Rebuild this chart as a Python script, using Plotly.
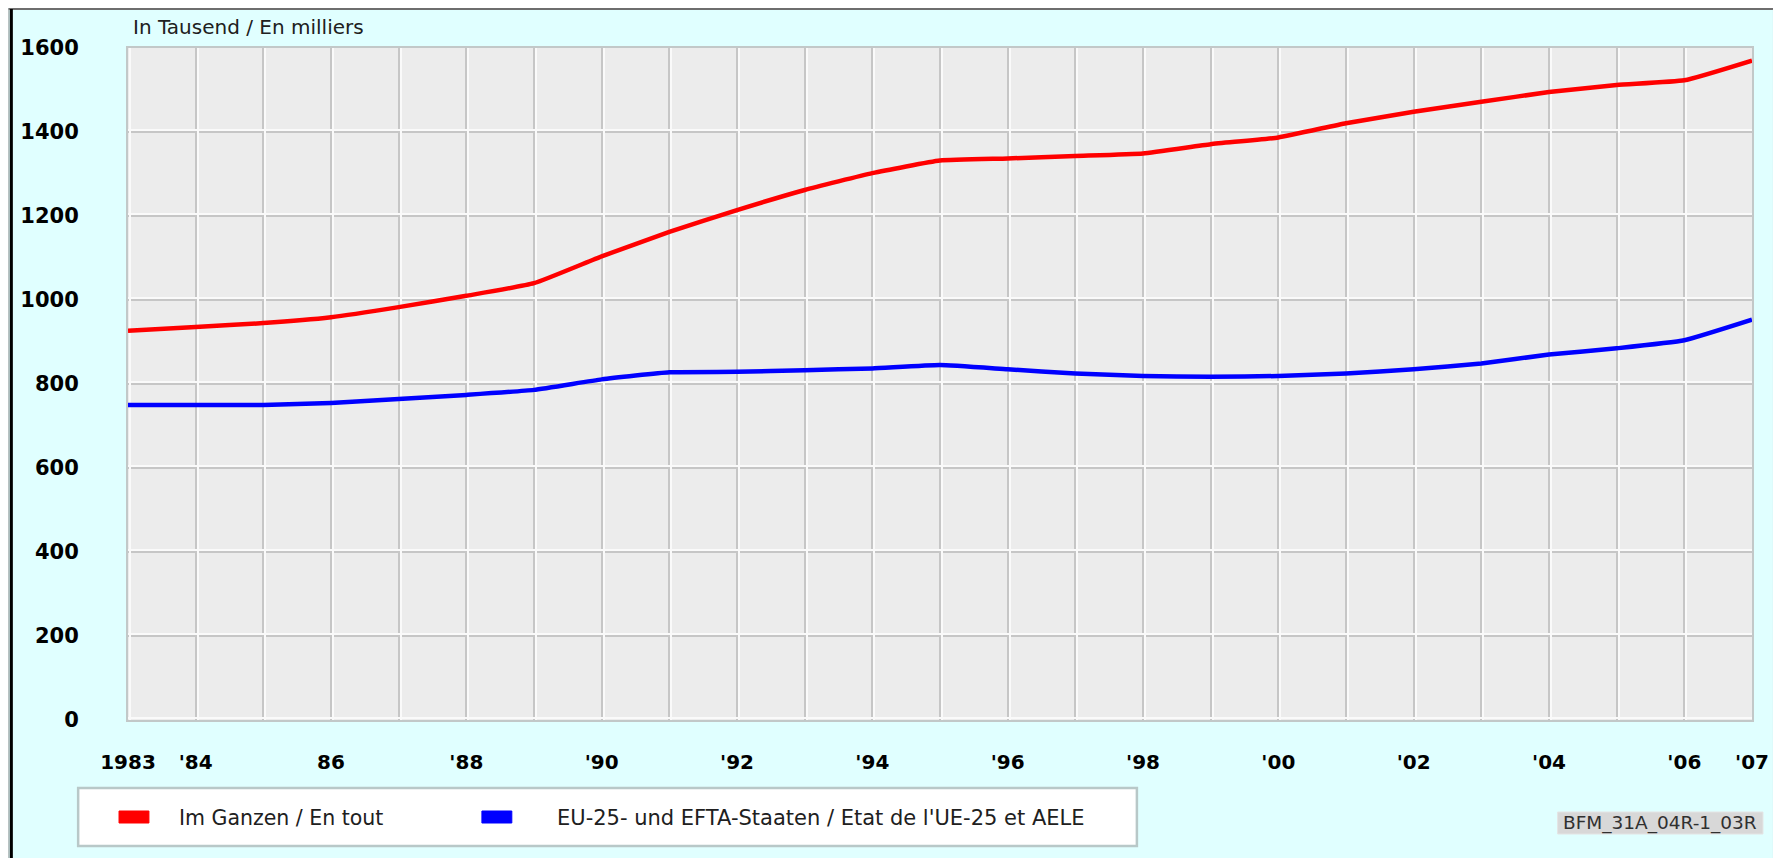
import plotly.graph_objects as go

# ---- data ----
years = list(range(1983, 2008))
total = [927, 936, 945, 959, 983, 1010, 1040, 1104, 1162, 1214, 1262, 1302, 1332,
         1337, 1343, 1349, 1371, 1387, 1421, 1448, 1472, 1495, 1512, 1523, 1570]
eu_efta = [750, 750, 750, 755, 764, 774, 786, 811, 828, 829, 833, 837, 845,
           835, 825, 819, 817, 819, 825, 835, 849, 870, 885, 904, 953]

tick_years = [1983, 1984, 1986, 1988, 1990, 1992, 1994, 1996, 1998, 2000, 2002, 2004, 2006, 2007]
tick_labels = ["1983", "'84", "86", "'88", "'90", "'92", "'94", "'96", "'98",
               "'00", "'02", "'04", "'06", "'07"]
y_ticks = [0, 200, 400, 600, 800, 1000, 1200, 1400, 1600]

series_names = ["Im Ganzen / En tout",
                "EU-25- und EFTA-Staaten / Etat de l'UE-25 et AELE"]
series_colors = ["#FF0000", "#0000FF"]
unit_title = "In Tausend / En milliers"
source_code = "BFM_31A_04R-1_03R"

# ---- geometry (page has an 8px body margin) ----
OFF = 8
W, H = 1781 - OFF, 858 - OFF
L, R, T, B = 120, 24, 40, 138
PW, PH = W - L - R, H - T - B


def px(xp):  # page x -> paper
    return (xp - OFF - L) / PW


def py(yp):  # page y -> paper
    return (H - B - (yp - OFF)) / PH


BG = "#E0FFFF"
PLOT_BG = "#ECECEC"
GRID = "#C6C6C6"
FONT = "DejaVu Sans"

fig = go.Figure()
for name, vals, col in zip(series_names, [total, eu_efta], series_colors):
    fig.add_trace(go.Scatter(x=years, y=vals, mode="lines", name=name,
                             line=dict(color=col, width=4.5, shape="spline", smoothing=0.4),
                             showlegend=False))

# invisible trace for highlight grid axes
fig.add_trace(go.Scatter(x=[None], y=[None], xaxis="x2", yaxis="y2",
                         showlegend=False, hoverinfo="skip"))

dx = 2.0 / (PW / 24.0)
dy = 2.0 / (PH / 1600.0)

fig.update_layout(
    width=W, height=H,
    margin=dict(l=L, r=R, t=T, b=B, pad=0),
    paper_bgcolor=BG,
    plot_bgcolor=PLOT_BG,
    xaxis=dict(range=[1983, 2007], tickvals=tick_years, ticktext=tick_labels,
               showgrid=True, gridcolor=GRID, gridwidth=2,
               tickmode="array", ticks="", ticklabelstandoff=23,
               tickfont=dict(family=FONT, size=20, color="black", weight="bold"),
               showline=True, linecolor="#C2C8C8", linewidth=2, mirror=True,
               zeroline=False, fixedrange=True,
               minor=dict(dtick=1, tick0=1983, showgrid=True, gridcolor=GRID, gridwidth=2)),
    yaxis=dict(range=[0, 1600], tickvals=y_ticks,
               showgrid=True, gridcolor=GRID, gridwidth=2,
               ticks="", ticklabelstandoff=43,
               tickfont=dict(family=FONT, size=21, color="black", weight="bold"),
               showline=True, linecolor="#C2C8C8", linewidth=2, mirror=True,
               zeroline=False, fixedrange=True),
    xaxis2=dict(overlaying="x", range=[1983 - dx, 2007 - dx], dtick=1, tick0=1983,
                showgrid=True, gridcolor="#FAFAFA", gridwidth=1.5,
                showticklabels=False, ticks="", zeroline=False, showline=False),
    yaxis2=dict(overlaying="y", range=[-dy, 1600 - dy], dtick=200, tick0=0,
                showgrid=True, gridcolor="#FAFAFA", gridwidth=1.5,
                showticklabels=False, ticks="", zeroline=False, showline=False),
    showlegend=False,
)

shapes = []
# frame lines
shapes.append(dict(type="line", xref="paper", yref="paper", x0=px(8), x1=px(1781),
                   y0=py(9), y1=py(9), line=dict(color="#6E6E6E", width=2)))
shapes.append(dict(type="line", xref="paper", yref="paper", x0=px(8.5), x1=px(8.5),
                   y0=py(858), y1=py(9), line=dict(color="#A0A0A0", width=1)))
shapes.append(dict(type="line", xref="paper", yref="paper", x0=px(11), x1=px(11),
                   y0=py(858), y1=py(9), line=dict(color="#000000", width=3)))
shapes.append(dict(type="line", xref="paper", yref="paper", x0=px(1779), x1=px(1779),
                   y0=py(858), y1=py(9), line=dict(color="#B0C4C4", width=2)))
# legend box
shapes.append(dict(type="rect", xref="paper", yref="paper", x0=px(78), x1=px(1140),
                   y0=py(846), y1=py(788), fillcolor="white",
                   line=dict(color="#B8C8C8", width=2.5)))
# legend swatches
for (x0, x1), col in zip([(119, 149), (483, 513)], series_colors):
    shapes.append(dict(type="rect", xref="paper", yref="paper", x0=px(x0), x1=px(x1),
                       y0=py(823), y1=py(811), fillcolor=col,
                       line=dict(color=col, width=1)))
# source box
shapes.append(dict(type="rect", xref="paper", yref="paper", x0=px(1562), x1=px(1768),
                   y0=py(834), y1=py(812), fillcolor="#D8D8D8",
                   line=dict(color="#E4E4E4", width=1)))
fig.update_layout(shapes=shapes)

annotations = [
    dict(text=unit_title, xref="paper", yref="paper", x=px(131), y=py(27),
         xanchor="left", yanchor="middle", showarrow=False,
         font=dict(family=FONT, size=20, color="#202020")),
    dict(text=series_names[0], xref="paper", yref="paper", x=px(177), y=py(818),
         xanchor="left", yanchor="middle", showarrow=False,
         font=dict(family=FONT, size=20.5, color="#202020")),
    dict(text=series_names[1], xref="paper", yref="paper", x=px(556), y=py(818),
         xanchor="left", yanchor="middle", showarrow=False,
         font=dict(family=FONT, size=21, color="#202020")),
    dict(text=source_code, xref="paper", yref="paper", x=px(1665), y=py(823),
         xanchor="center", yanchor="middle", showarrow=False,
         font=dict(family=FONT, size=18.5, color="#303030")),
]
fig.update_layout(annotations=annotations)

fig.write_html("out.html")
